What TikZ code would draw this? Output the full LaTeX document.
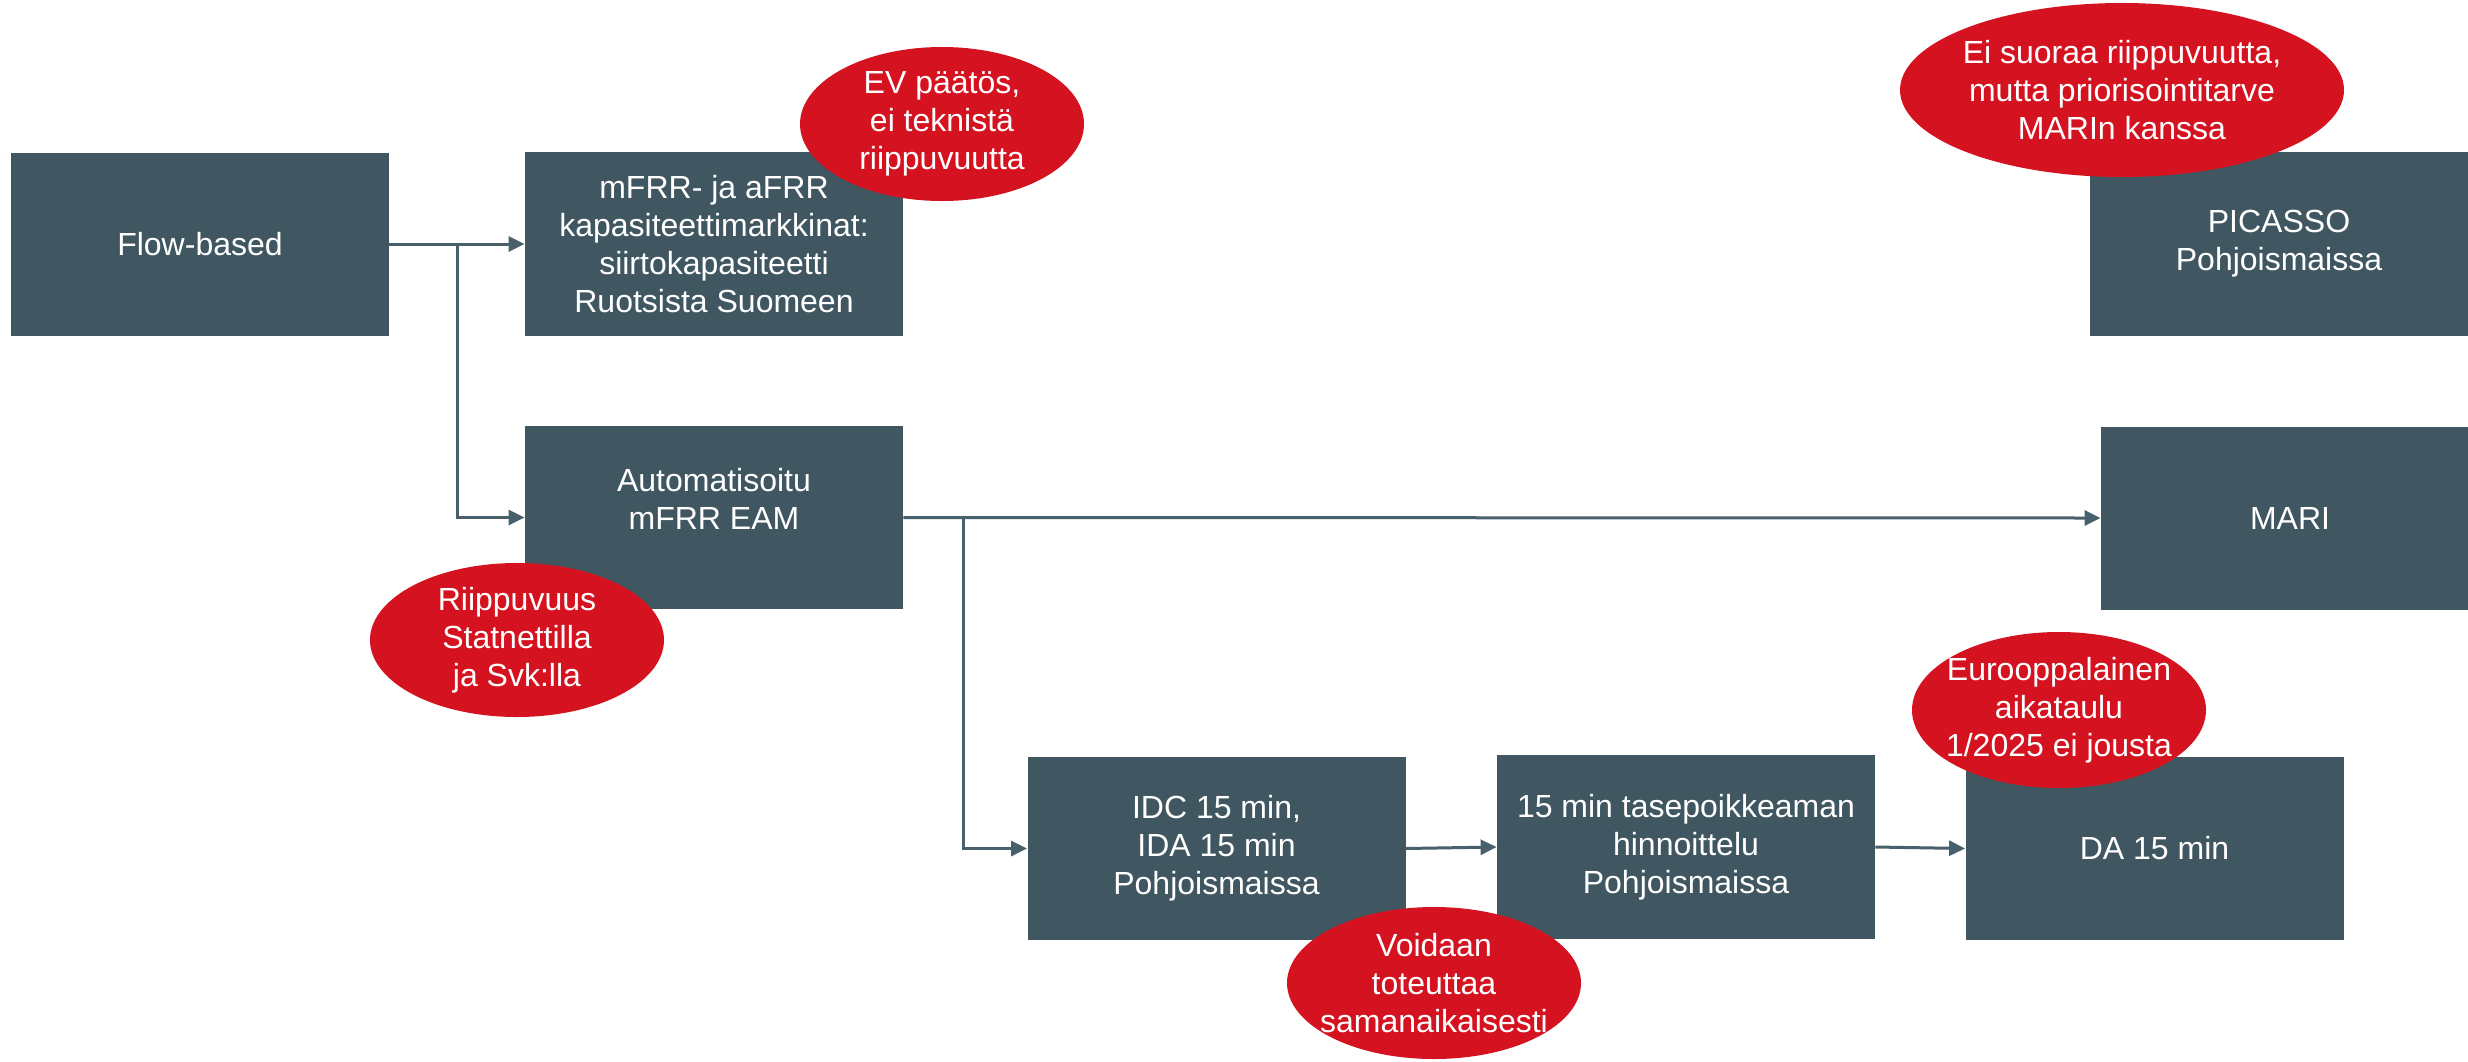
\documentclass[tikz,border=0pt]{standalone}
\usepackage{fontspec}
\setmainfont{Liberation Sans}
\usetikzlibrary{arrows.meta,shapes.geometric}
\definecolor{boxc}{RGB}{64,87,97}
\definecolor{linec}{RGB}{72,96,107}
\definecolor{redc}{RGB}{213,18,32}
\begin{document}
\begin{tikzpicture}[x=0.5pt,y=-0.5pt,
  box/.style={fill=boxc, text=white, inner sep=0pt, align=center,
    font=\fontsize{16}{19}\selectfont, minimum height=91.5pt, minimum width=189pt},
  bubble/.style={ellipse, fill=redc, inner sep=0pt},
  btext/.style={text=white, inner sep=0pt, align=center, font=\fontsize{16}{19}\selectfont},
  arr/.style={draw=linec, line width=1.5pt, -{Triangle[length=8pt,width=7.5pt]}},
  conn/.style={draw=linec, line width=1.5pt}]
\useasboundingbox (0,0) rectangle (2468,1061);

% boxes
\node[box] (flow) at (200,244) {Flow-based};
\node[box, minimum height=92pt] (mfrr) at (714,244) {mFRR- ja aFRR\\kapasiteettimarkkinat:\\siirtokapasiteetti\\Ruotsista Suomeen};
\node[box] (auto) at (714,517.5) {Automatisoitu\\mFRR EAM\\\mbox{}};
\node[box] (mari) at (2290,518) {MARI};
\node[box, minimum height=92pt] (picasso) at (2279,244) {PICASSO\\Pohjoismaissa};
\node[box] (idc) at (1216.5,848.5) {IDC 15 min,\\IDA 15 min\\Pohjoismaissa};
\node[box, minimum height=92pt] (tase) at (1686,847) {15 min tasepoikkeaman\\hinnoittelu\\Pohjoismaissa};
\node[box] (da) at (2154.5,848.5) {DA 15 min};

% connectors
\coordinate (j1) at (457,244);
\coordinate (j2) at (963,517.5);
\draw[arr] (flow.east) -- (mfrr.west);
\draw[arr] (flow.east) -- (j1) |- (auto.west);
\draw[arr] (auto.east) -- (mari.west);
\draw[arr] (j2) |- (idc.west);
\draw[arr] (idc.east) -- (tase.west);
\draw[arr] (tase.east) -- (da.west);

% bubbles
\node[bubble, minimum width=142pt, minimum height=77pt] (ev) at (942,124) {};
\node[btext] (evt) at (ev) {EV päätös,\\ei teknistä\\riippuvuutta};
\node[bubble, minimum width=147pt, minimum height=77pt] (riip) at (517,640) {};
\node[btext] (riipt) at (riip) {Riippuvuus\\Statnettilla\\ja Svk:lla};
\node[bubble, minimum width=222pt, minimum height=87pt] (ei) at (2122,90) {};
\node[btext] (eit) at (ei) {Ei suoraa riippuvuutta,\\mutta priorisointitarve\\MARIn kanssa};
\node[bubble, minimum width=147pt, minimum height=78pt] (euro) at (2059,710) {};
\node[btext] (eurot) at (euro) {Eurooppalainen\\aikataulu\\1/2025 ei jousta};
\node[bubble, minimum width=147pt, minimum height=76pt] (voi) at (1434,983) {};
\node[btext] (voit) at (voi) {Voidaan\\toteuttaa\\samanaikaisesti};
\end{tikzpicture}
\end{document}
